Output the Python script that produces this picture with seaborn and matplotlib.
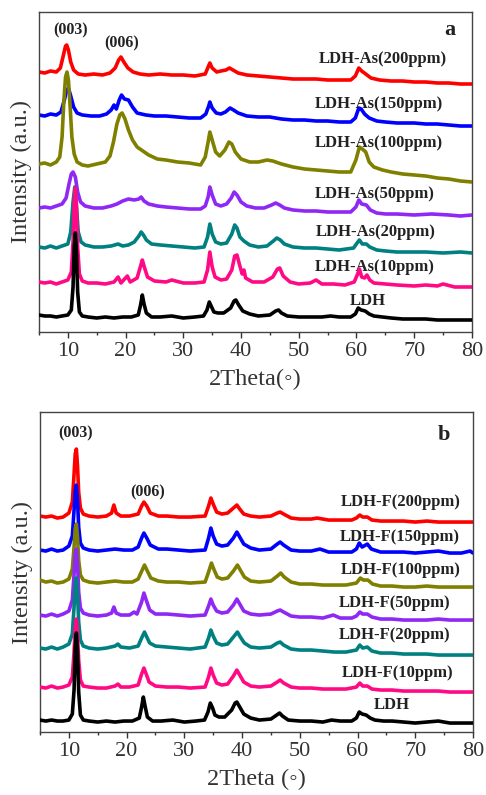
import pandas as pd
import matplotlib.pyplot as plt
import seaborn as sns

# XRD patterns: (2theta, intensity in a.u., already stacked)
# panel a: LDH after As uptake
a_ldh = [(5,17),(6,16),(7,16),(8,15),(9,16),(10,17),(10.6,22),(10.9,45),(11.1,85),(11.3,99),(11.5,80),(11.7,40),(12.0,20),(12.5,16),(13.5,15),(15,14),(16.5,15),(18,14),(19.5,15),(21,15),(22.2,17),(22.6,27),(22.9,37),(23.2,28),(23.6,19),(24.5,15),(26,15),(28,16),(30,14),(32,15),(33.5,16),(34.1,22),(34.5,30),(34.9,25),(35.3,20),(36,19),(37,19),(38.2,24),(38.8,31),(39.1,32),(39.6,27),(40.3,21),(41.5,18),(43,16),(45,17),(46,21),(46.5,22),(47,19),(48,16),(50,15),(52,15),(54,15),(55.5,16),(57,15),(59,15),(59.8,18),(60.3,24),(60.8,22),(61.5,21),(62.2,18),(63,16),(64.5,15),(66,14),(68,13),(70,13),(72,13),(74,12),(76,12),(78,12),(80,12)]
a_10 = [(5,50),(6,49),(7,50),(8,48),(9,50),(10,52),(10.6,60),(10.9,90),(11.1,130),(11.3,144),(11.5,125),(11.7,85),(12.0,58),(12.5,51),(13.5,49),(15,49),(16.5,48),(18,50),(18.7,55),(19.2,49),(20.3,56),(20.8,50),(22,54),(22.6,66),(22.9,72),(23.3,64),(23.8,55),(25,51),(27,50),(28,52),(30,49),(32,49),(33.6,50),(34.2,62),(34.6,80),(35.0,65),(35.5,55),(36.5,52),(37.5,53),(38.4,62),(38.9,76),(39.3,77),(39.8,66),(40.2,58),(40.5,62),(40.8,54),(42,50),(44,50),(45.5,55),(46.3,63),(46.7,64),(47.3,56),(48.5,50),(50,48),(52,49),(53,52),(54,48),(56,48),(58,47),(59.6,50),(60.2,58),(60.5,63),(60.9,55),(61.4,54),(61.8,57),(62.3,52),(63,49),(65,48),(67,47),(70,46),(72,47),(74,46),(75,48),(77,45),(80,45)]
a_20 = [(5,85),(6,84),(7,86),(8,84),(9,86),(10,88),(10.5,100),(10.9,130),(11.2,145),(11.5,125),(11.8,100),(12.3,90),(13,87),(14.5,85),(16,85),(17.5,86),(18.7,88),(19.5,86),(20.5,87),(21.5,90),(22.3,96),(22.7,100),(23.1,97),(23.6,92),(24.5,88),(26,87),(28,86),(30,85),(32,84),(33.6,85),(34.2,95),(34.6,108),(35,98),(35.6,90),(36.5,88),(37.5,89),(38.4,98),(38.9,107),(39.3,104),(39.8,95),(40.5,91),(41.5,87),(43,85),(44.5,86),(45.6,91),(46.2,94),(46.8,92),(47.5,88),(49,85),(51,84),(53,84),(55,83),(57,82),(59.5,84),(60.1,89),(60.5,92),(61,88),(61.7,88),(62.3,85),(63.5,82),(65,81),(67,80),(69,80),(72,80),(75,79),(78,80),(80,79)]
a_50 = [(5,124),(6,125),(7,124),(8,126),(9,128),(9.7,134),(10.2,148),(10.6,158),(10.9,160),(11.3,155),(11.7,140),(12.2,130),(13,126),(14.5,124),(16,124),(17.5,126),(18.5,128),(19.5,131),(20.5,133),(21.5,132),(22.3,133),(22.7,135),(23.2,131),(24,128),(25.5,126),(27,125),(29,124),(31,123),(33,123),(33.8,126),(34.3,135),(34.6,145),(35,137),(35.6,128),(36.5,126),(37.5,128),(38.3,134),(38.8,140),(39.3,137),(40,130),(41,126),(42.5,124),(44,124),(45.3,127),(46,129),(46.7,127),(47.5,124),(49,122),(51,121),(53,121),(55,120),(57,120),(59,120),(59.9,125),(60.4,132),(60.9,128),(61.7,127),(62.4,122),(63.5,119),(65,118),(67,118),(70,117),(73,118),(76,117),(78,116),(80,117)]
a_100 = [(5,168),(6,169),(7,167),(8,170),(8.6,175),(9.0,195),(9.3,230),(9.6,255),(9.85,260),(10.1,252),(10.4,225),(10.7,195),(11.1,178),(11.6,170),(12.5,167),(13.5,166),(15,168),(16.5,170),(17.3,176),(17.9,190),(18.5,208),(19.0,217),(19.4,219),(19.9,213),(20.5,202),(21.2,192),(22,185),(23,181),(24,177),(25.5,173),(27,172),(29,170),(31,169),(33,167),(33.8,175),(34.3,190),(34.6,200),(35,192),(35.6,180),(36.3,176),(37.2,182),(37.9,190),(38.4,188),(39,180),(40,173),(41.5,170),(43,170),(44.5,172),(45.5,171),(47,168),(49,165),(51,163),(53,162),(55,161),(57,160),(59,160),(59.9,172),(60.5,185),(61,183),(61.6,180),(62.2,170),(63,165),(64.5,162),(66,160),(68,158),(70,157),(72,156),(74,154),(76,153),(78,151),(80,150)]
a_150 = [(5,217),(6,216),(7,218),(8,217),(8.8,220),(9.4,232),(9.8,242),(10.1,244),(10.5,236),(11,225),(11.6,219),(12.5,217),(14,216),(15.5,216),(16.7,218),(17.5,222),(18,227),(18.4,223),(18.9,232),(19.3,237),(19.8,233),(20.5,232),(21.2,225),(22,219),(23.5,217),(25,216),(27,216),(29,215),(31,214),(33,214),(33.9,218),(34.4,226),(34.6,230),(35,224),(35.7,219),(36.5,218),(37.3,220),(38.1,224),(38.7,222),(39.5,219),(41,216),(43,215),(45,215),(47,213),(49,212),(51,212),(53,211),(55,211),(57,210),(59,210),(59.8,214),(60.4,224),(60.8,223),(61.4,218),(62.2,214),(63.5,211),(65,210),(67,209),(70,209),(72,208),(74,208),(76,207),(78,206),(80,206)]
a_200 = [(5,260),(6,259),(7,261),(8,260),(8.7,264),(9.2,276),(9.6,286),(9.8,287),(10.1,282),(10.5,270),(11,262),(11.8,258),(13,257),(14.5,258),(16,257),(17.3,259),(18.2,264),(18.8,272),(19.2,275),(19.7,270),(20.4,264),(21.3,260),(22.5,258),(24,257),(26,258),(28,257),(30,257),(32,256),(33.8,258),(34.3,265),(34.6,269),(35,264),(35.8,260),(36.5,261),(37.4,262),(38,264),(38.6,262),(39.5,259),(41,257),(43,256),(45,255),(47,254),(49,253),(51,253),(53,253),(55,252),(57,252),(59,252),(59.8,256),(60.4,264),(60.9,261),(61.6,258),(62.5,254),(64,252),(66,251),(68,251),(70,250),(72,250),(74,249),(76,249),(78,248),(80,248)]

# panel b: LDH after F uptake
b_ldh = [(5,12),(6,11),(7,12),(8,11),(9,11),(10,12),(10.6,18),(10.9,42),(11.1,85),(11.3,99),(11.5,80),(11.7,40),(12.0,17),(12.5,12),(13.5,11),(15,10),(16.5,11),(18,10),(19.5,11),(21,11),(22.2,14),(22.6,25),(22.9,35),(23.2,26),(23.6,15),(24.5,11),(26,11),(28,12),(30,10),(32,11),(33.5,12),(34.1,20),(34.5,29),(34.9,24),(35.3,17),(36,15),(37,15),(38.2,22),(38.8,29),(39.1,30),(39.6,25),(40.3,18),(41.5,14),(43,12),(45,13),(46,17),(46.5,19),(47,16),(48,12),(50,11),(52,11),(54,10),(55.5,12),(57,11),(59,11),(59.8,14),(60.3,20),(60.8,18),(61.5,17),(62.2,14),(63,12),(64.5,11),(66,11),(68,10),(70,9),(72,10),(74,11),(76,9),(78,9),(80,9)]
b_10 = [(5,45),(6,44),(7,46),(8,44),(9,45),(10,47),(10.6,55),(10.9,80),(11.1,105),(11.3,113),(11.5,98),(11.7,72),(12.0,52),(12.5,46),(13.5,45),(15,44),(16.5,44),(18,46),(18.5,48),(19,45),(20.5,45),(22,47),(22.6,58),(23.0,64),(23.4,58),(23.9,50),(25,46),(27,45),(29,45),(31,44),(33.6,45),(34.2,55),(34.6,64),(35,57),(35.6,49),(36.5,47),(37.5,48),(38.5,56),(39.1,62),(39.6,57),(40.3,50),(41.5,46),(43,45),(45,46),(46.1,50),(46.6,52),(47.2,49),(48.5,45),(50,44),(52,44),(54,43),(56,43),(58,43),(59.8,45),(60.4,49),(60.9,46),(61.7,46),(62.5,43),(64,42),(66,42),(68,41),(70,41),(72,41),(74,41),(76,40),(78,40),(80,40)]
b_20 = [(5,84),(6,83),(7,85),(8,83),(9,85),(10,88),(10.6,98),(10.9,125),(11.1,148),(11.3,154),(11.5,138),(11.7,110),(12.0,92),(12.5,86),(13.5,84),(15,83),(16.5,84),(18,86),(18.5,88),(19,85),(20.5,84),(22,86),(22.6,94),(23.1,100),(23.5,95),(24,89),(25,86),(27,85),(29,84),(31,83),(33.6,85),(34.2,94),(34.6,102),(35,96),(35.6,89),(36.5,87),(37.5,88),(38.5,95),(39.2,100),(39.7,95),(40.4,89),(41.5,85),(43,84),(45,85),(46.1,89),(46.6,90),(47.2,87),(48.5,83),(50,82),(52,82),(54,81),(56,80),(58,80),(59.8,82),(60.4,87),(60.9,84),(61.7,85),(62.5,81),(64,79),(66,79),(68,78),(70,78),(72,78),(74,77),(76,77),(78,77),(80,77)]
b_50 = [(5,117),(6,116),(7,118),(8,116),(9,118),(10,121),(10.6,132),(10.9,158),(11.1,178),(11.3,183),(11.5,168),(11.7,140),(12.0,124),(12.5,119),(13.5,117),(15,116),(16.5,117),(17.4,119),(17.8,125),(18.2,119),(19,117),(20.5,117),(21.3,120),(21.8,118),(22.6,130),(23.0,139),(23.4,132),(24,122),(25,118),(27,118),(29,117),(31,116),(33.6,117),(34.2,126),(34.6,133),(35,127),(35.6,121),(36.5,119),(37.5,120),(38.5,127),(39.1,133),(39.6,128),(40.3,121),(41.5,118),(43,117),(45,118),(46.1,121),(46.6,122),(47.2,120),(48.5,116),(50,115),(52,115),(54,114),(55.8,117),(57,114),(59,114),(59.8,116),(60.4,120),(60.9,118),(61.7,118),(62.5,115),(64,113),(66,113),(68,112),(70,112),(72,112),(74,113),(76,112),(78,112),(80,112)]
b_100 = [(5,152),(6,150),(7,151),(8,149),(9,150),(10,153),(10.6,163),(10.9,185),(11.1,203),(11.3,208),(11.5,195),(11.7,172),(12.0,157),(12.5,152),(13.5,150),(15,149),(16.5,150),(18,151),(19.5,150),(21,150),(22,153),(22.7,162),(23.1,167),(23.6,161),(24.2,154),(25.5,151),(27,150),(29,150),(31,149),(33.6,150),(34.2,160),(34.7,169),(35.1,163),(35.7,155),(36.5,153),(37.5,154),(38.5,161),(39.2,167),(39.7,162),(40.4,155),(41.5,151),(43,150),(45,151),(46.1,156),(46.7,159),(47.3,155),(48.5,150),(50,148),(52,148),(54,147),(56,147),(58,147),(59.8,149),(60.5,154),(61,152),(61.8,152),(62.6,148),(64,146),(66,146),(68,145),(70,145),(72,146),(74,145),(76,145),(78,145),(80,145)]
b_150 = [(5,182),(6,181),(7,183),(8,181),(9,182),(10,186),(10.6,196),(10.9,222),(11.1,241),(11.3,247),(11.5,232),(11.7,205),(12.0,189),(12.5,184),(13.5,182),(15,181),(16.5,182),(18,183),(19.5,182),(21,182),(22,185),(22.6,194),(23.0,199),(23.5,194),(24.1,187),(25.5,183),(27,183),(29,182),(31,181),(33.6,182),(34.2,194),(34.6,204),(35,196),(35.6,188),(36.5,186),(37.5,187),(38.5,194),(39.1,200),(39.6,195),(40.3,188),(41.5,184),(43,182),(45,183),(46.1,188),(46.6,190),(47.2,187),(48.5,182),(50,181),(52,181),(53.5,183),(55,180),(57,180),(59,180),(59.8,183),(60.3,189),(60.8,185),(61.7,188),(62.4,183),(64,180),(66,180),(68,180),(70,179),(72,180),(74,181),(76,179),(78,179),(79.5,181),(80,179)]
b_200 = [(5,216),(6,215),(7,216),(8,214),(9,215),(10,219),(10.6,230),(10.9,258),(11.1,278),(11.3,283),(11.5,266),(11.7,240),(12.0,224),(12.5,218),(13.5,216),(15,215),(16.5,216),(17.4,219),(17.8,227),(18.2,219),(19,216),(20.5,216),(22,218),(22.6,226),(23.0,230),(23.5,226),(24.1,219),(25.5,216),(27,216),(29,215),(31,215),(33.6,216),(34.2,226),(34.6,234),(35,228),(35.6,220),(36.5,218),(37.5,219),(38.5,224),(39.1,227),(39.6,223),(40.3,218),(41.5,216),(43,215),(45,216),(46.1,219),(46.6,220),(47.2,218),(48.5,214),(50,213),(52,213),(53,214),(55,212),(57,212),(59,212),(59.8,214),(60.4,217),(60.9,215),(61.7,215),(62.5,212),(64,211),(66,211),(68,211),(70,210),(72,211),(74,210),(76,210),(78,210),(80,210)]

colors = ['black', '#ff0a85', '#008080', '#8f27f5', '#808000', '#0000ff', '#ff0000']

a_curves = [a_ldh, a_10, a_20, a_50, a_100, a_150, a_200]
a_labels = ['LDH', 'LDH-As(10ppm)', 'LDH-As(20ppm)', 'LDH-As(50ppm)',
            'LDH-As(100ppm)', 'LDH-As(150ppm)', 'LDH-As(200ppm)']
a_label_x = [62, 63.1, 63.3, 63.1, 63.9, 63.9, 64.6]
a_label_y = [31, 65, 100, 138, 189, 228, 273]

b_curves = [b_ldh, b_10, b_20, b_50, b_100, b_150, b_200]
b_labels = ['LDH', 'LDH-F(10ppm)', 'LDH-F(20ppm)', 'LDH-F(50ppm)',
            'LDH-F(100ppm)', 'LDH-F(150ppm)', 'LDH-F(200ppm)']
b_label_x = [66, 66.9, 66.5, 66.5, 67.4, 67.4, 67.4]
b_label_y = [27, 59, 97, 129, 162, 195, 230]

sns.set_style('ticks')
serif = ['Liberation Serif', 'DejaVu Sans']
plt.rcParams['font.family'] = serif

fig = plt.figure(figsize=(4.86, 7.95), dpi=100)
ax_a = fig.add_axes([0.0802, 0.5824, 0.8909, 0.4025])
ax_b = fig.add_axes([0.0823, 0.0792, 0.8909, 0.4025])


def draw_panel(ax, curves, labels, lx, ly, letter, peaks, xlabel):
    n = len(curves)
    for i, (pts, c) in enumerate(zip(curves, colors)):
        df = pd.DataFrame(pts, columns=['two_theta', 'intensity'])
        sns.lineplot(data=df, x='two_theta', y='intensity', ax=ax, color=c,
                     lw=2.6, zorder=n - i)
    for t, x, y in zip(labels, lx, ly):
        ax.text(x, y, t, ha='center', va='center', fontsize=12,
                fontweight='bold', color='#222222')
    ax.text(letter[1], letter[2], letter[0], ha='center', va='center',
            fontsize=16, fontweight='bold', color='#222222')
    for t, x, y in peaks:
        ax.text(x, y, t, ha='center', va='center', fontsize=11.5,
                fontweight='bold', color='#222222')
    ax.set_xlim(5, 80)
    ax.set_ylim(0, 320)
    ax.set_xticks(range(10, 81, 10))
    ax.set_xticks(range(5, 81, 5), minor=True)
    ax.set_yticks([])
    ax.tick_params(axis='x', which='major', length=4, width=1, labelsize=16,
                   colors='#333333', pad=3)
    ax.tick_params(axis='x', which='minor', length=2.5, width=1, colors='#333333')
    for s in ax.spines.values():
        s.set_visible(True)
        s.set_color('#444444')
        s.set_linewidth(1)
    ax.set_xlabel(xlabel, fontsize=17.5, color='#333333', labelpad=6)
    ax.set_ylabel('Intensity (a.u.)', fontsize=17.5, color='#333333', labelpad=5)


draw_panel(ax_a, a_curves, a_labels, a_label_x, a_label_y, ('a', 76.2, 302),
           [('(003)', 10.4, 302), ('(006)', 19.4, 289)], '2Theta(\u25e6)')
draw_panel(ax_b, b_curves, b_labels, b_label_x, b_label_y, ('b', 74.9, 297),
           [('(003)', 11.2, 299), ('(006)', 23.7, 240)], '2Theta (\u25e6)')

fig.savefig('out.png', dpi=100)
